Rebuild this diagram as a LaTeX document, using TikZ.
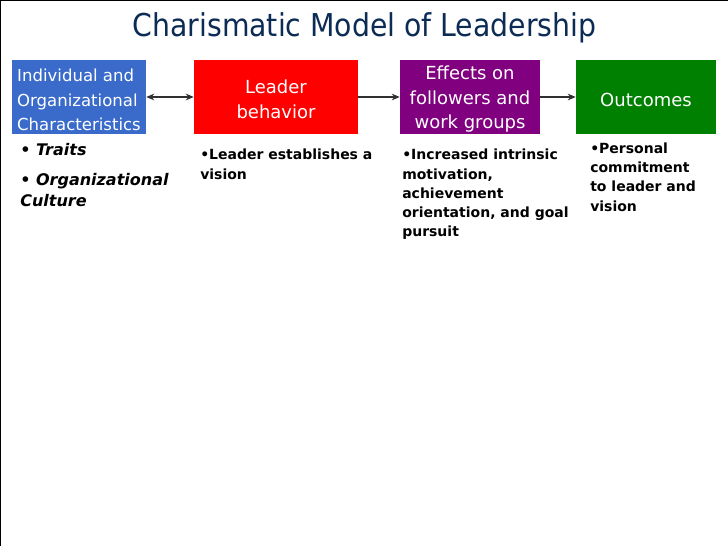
\documentclass[tikz,border=0pt]{standalone}
\usepackage{fontspec}
\setmainfont{DejaVu Sans}
\newfontfamily\titlefont{DejaVu Sans Condensed}
\usetikzlibrary{arrows.meta}
\definecolor{bluebox}{HTML}{3A6BCB}
\definecolor{redbox}{HTML}{FF0000}
\definecolor{purplebox}{HTML}{800080}
\definecolor{greenbox}{HTML}{008000}
\definecolor{navy}{HTML}{0C2C55}
\definecolor{arrowgray}{HTML}{303030}
\newcommand\boxstrut{\rule{0pt}{14pt}}
\begin{document}
\begin{tikzpicture}[x=0.75pt,y=-0.75pt,
  stagebox/.style={rectangle, minimum height=55.5pt, inner sep=0pt, text=white, align=center,
    font=\fontsize{13.5}{18.4}\selectfont},
  bullettext/.style={anchor=north west, inner sep=0pt, align=left,
    font=\fontsize{10.5}{14.4}\selectfont\bfseries},
  italictext/.style={anchor=north west, inner sep=0pt, align=left,
    font=\fontsize{12}{16}\selectfont\bfseries\itshape},
  flow/.style={draw=arrowgray, line width=0.9pt, -{Stealth[length=6pt,width=5pt]}}
]
\useasboundingbox (0,0) rectangle (728,546);
\fill[white] (0,0) rectangle (728,546);
\draw[line width=1.5pt] (0,546) -- (0,0) -- (728,0);

\node[font=\titlefont\fontsize{23.6}{28}\selectfont, text=navy] (title) at (364.5,28) {Charismatic Model of Leadership};

\node[stagebox, fill=bluebox, minimum width=100.5pt, align=left, font=\fontsize{12.4}{18.4}\selectfont] (ind) at (79,97)
  {\boxstrut Individual and\\Organizational\\Characteristics};
\node[stagebox, fill=redbox, minimum width=123pt] (lead) at (276,97) {\boxstrut Leader\\behavior};
\node[stagebox, fill=purplebox, minimum width=105pt] (eff) at (470,97) {\boxstrut Effects on\\followers and\\work groups};
\node[stagebox, fill=greenbox, minimum width=105pt] (out) at (646,97) {\boxstrut Outcomes};

\draw[flow, {Stealth[length=6pt,width=5pt]}-{Stealth[length=6pt,width=5pt]}] (ind) -- (lead);
\draw[flow] (lead) -- (eff);
\draw[flow] (eff) -- (out);

\node[italictext] (traits) at (20,143) {• Traits};
\node[italictext] (culture) at (20,173) {• Organizational\\Culture};
\node[bullettext] (vision) at (200,149) {•Leader establishes a\\vision};
\node[bullettext] (motiv) at (402,149) {•Increased intrinsic\\motivation,\\achievement\\orientation, and goal\\pursuit};
\node[bullettext] (commit) at (590,142.5) {•Personal\\commitment\\to leader and\\vision};
\end{tikzpicture}
\end{document}
